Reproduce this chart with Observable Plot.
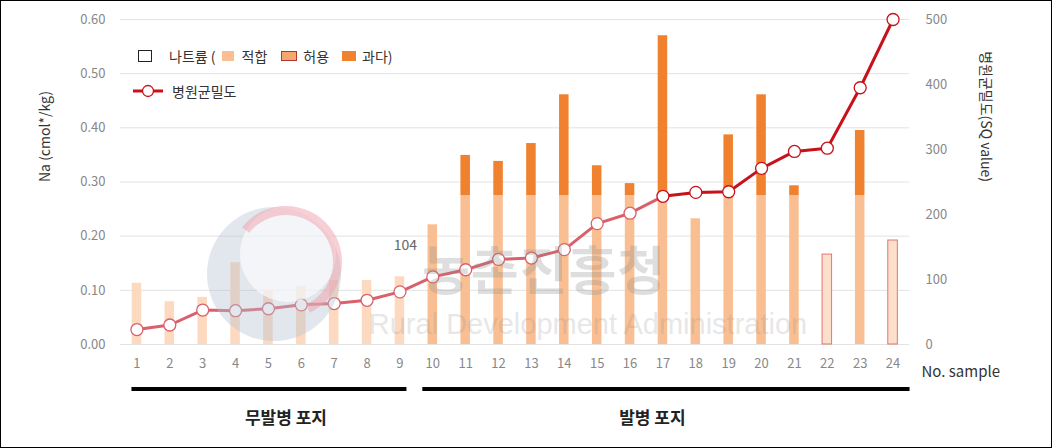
<!DOCTYPE html>
<html>
<head>
<meta charset="utf-8">
<script src="https://cdn.jsdelivr.net/npm/d3@7"></script>
<script src="https://cdn.jsdelivr.net/npm/@observablehq/plot@0.6"></script>
<style>
  html, body { margin: 0; padding: 0; background: #fff; }
  body { font-family: "Noto Sans CJK KR", "Noto Sans", sans-serif; }
  #wrap { position: relative; width: 1059px; height: 448px; overflow: hidden; }
  #frame { position: absolute; left: 0; top: 0; width: 1052px; height: 448px; box-sizing: border-box; border: 1px solid #000; pointer-events: none; }
  .leg { position: absolute; display: flex; align-items: center; font-size: 14px; color: #333; white-space: nowrap; }
  .sw { display: inline-block; width: 12px; height: 10px; box-sizing: border-box; }
  #wm { position: absolute; left: 0; top: 0; pointer-events: none; }
</style>
</head>
<body>
<div id="wrap"></div>
<script>
// ---- data ----
const samples = [1,2,3,4,5,6,7,8,9,10,11,12,13,14,15,16,17,18,19,20,21,22,23,24];
const naValues = [0.113,0.079,0.087,0.151,0.100,0.107,0.118,0.118,0.125,0.221,0.349,0.338,0.371,0.461,0.330,0.297,0.570,0.232,0.387,0.461,0.293,0.166,0.395,0.192];
const naStatus = ["적합","적합","적합","적합","적합","적합","적합","적합","적합","적합","과다","과다","과다","과다","과다","과다","과다","적합","과다","과다","과다","허용","과다","허용"];
const pathogen = [23,30,53,52,55,61,63,68,81,104,115,131,133,146,186,202,228,234,235,271,297,302,395,500];
const groupNames = ["무발병 포지","발병 포지"];
const groupOf = samples.map(s => s <= 9 ? groupNames[0] : groupNames[1]);
const okLimit = 0.275;           // upper end of the 적합 part of each bar
const naTicks = [0, 0.1, 0.2, 0.3, 0.4, 0.5, 0.6];
const pTicks = [0, 100, 200, 300, 400, 500];
const naMax = 0.6, pMax = 500;
const k = naMax / pMax;          // maps pathogen onto the Na scale

// ---- colours ----
const cOkHealthy = "#fdd9bf";
const cOk = "#f9bf93";
const cAllow = "#fde0cc";
const cAllowStroke = "#e57373";
const cOver = "#f0822f";
const cLineA = "#d9616b";
const cLineB = "#c8111b";

const rows = samples.map((s, i) => ({ s, na: naValues[i], st: naStatus[i], p: pathogen[i], g: groupOf[i], i }));
const baseRows = rows.map(d => ({ ...d, y1: 0, y2: Math.min(d.na, okLimit) }));
const overRows = rows.filter(d => d.na > okLimit).map(d => ({ ...d, y1: okLimit, y2: d.na }));

const groupMark = (index, scales, values, dims) => {
  const x = scales.x, bw = x.bandwidth();
  const c = s => x(s) + bw / 2;
  const g = d3.create("svg:g");
  const spans = [
    { name: groupNames[0], a: c(1) - 5, b: c(9) + 7, lx: (c(1) + c(9)) / 2 + 18 },
    { name: groupNames[1], a: c(10) - 10, b: c(24) + 17, lx: (c(10) + c(24)) / 2 - 10 }
  ];
  for (const sp of spans) {
    g.append("line").attr("x1", sp.a).attr("x2", sp.b).attr("y1", 389).attr("y2", 389)
      .attr("stroke", "#000").attr("stroke-width", 4);
    g.append("text").attr("x", sp.lx).attr("y", 424).attr("text-anchor", "middle")
      .attr("font-size", 17).attr("font-weight", "bold").attr("fill", "#222").text(sp.name);
  }
  return g.node();
};

const plot = Plot.plot({
  width: 1059,
  height: 448,
  marginLeft: 120,
  marginRight: 150,
  marginTop: 19,
  marginBottom: 104,
  style: { fontFamily: "'Noto Sans CJK KR', 'Noto Sans', sans-serif", background: "transparent" },
  x: { type: "band", domain: samples, paddingInner: 0.71, paddingOuter: 0.355, align: 0.5, round: false },
  y: { domain: [0, naMax] },
  marks: [
    Plot.gridY(naTicks, { stroke: "#e2e2e2", strokeOpacity: 1 }),
    Plot.rectY(baseRows, {
      x: "s", y1: "y1", y2: "y2",
      fill: d => d.st === "허용" ? cAllow : (d.g === groupNames[0] ? cOkHealthy : cOk),
      stroke: d => d.st === "허용" ? cAllowStroke : "none",
      strokeWidth: 1
    }),
    Plot.rectY(overRows, { x: "s", y1: "y1", y2: "y2", fill: cOver }),
    Plot.line(rows.filter(d => d.s <= 17), { x: "s", y: d => d.p * k, stroke: cLineA, strokeWidth: 3 }),
    Plot.line(rows.filter(d => d.s >= 17), { x: "s", y: d => d.p * k, stroke: cLineB, strokeWidth: 3 }),
    Plot.dot(rows, { x: "s", y: d => d.p * k, r: 6, fill: "white", stroke: d => d.s <= 16 ? cLineA : cLineB, strokeWidth: 1.3 }),
    Plot.axisY(naTicks, { anchor: "left", tickSize: 0, tickPadding: 15, tickFormat: d3.format(".2f"), fill: "#888", fontSize: 13, label: null }),
    Plot.axisY(pTicks.map(v => v * k), { anchor: "right", tickSize: 0, tickPadding: 16, tickFormat: v => String(Math.round(v / k)), fill: "#888", fontSize: 13, label: null }),
    Plot.axisX({ tickSize: 0, tickPadding: 14, fill: "#888", fontSize: 13, label: null }),
    Plot.text(["Na (cmol*/kg)"], { frameAnchor: "left", dx: -75, rotate: -90, fontSize: 14, fill: "#333" }),
    Plot.text(["병원균밀도(SQ value)"], { frameAnchor: "right", dx: 76, rotate: 90, fontSize: 14, fill: "#333" }),
    Plot.text(["No. sample"], { frameAnchor: "bottom-right", dx: 12, dy: 32, textAnchor: "start", fontSize: 15, fill: "#333" }),
    groupMark
  ]
});

const wrap = document.getElementById("wrap");
wrap.appendChild(plot);

// watermark overlay (faint logo + agency name)
const wm = d3.select(wrap).append("svg").attr("id", "wm").attr("width", 1059).attr("height", 448);
wm.append("circle").attr("cx", 274).attr("cy", 274).attr("r", 67).attr("fill", "#b4c3d3").attr("opacity", 0.4);
wm.append("circle").attr("cx", 288).attr("cy", 254).attr("r", 48).attr("fill", "#fff").attr("opacity", 0.6);
wm.append("path").attr("d", d3.arc()({ innerRadius: 47, outerRadius: 56, startAngle: -0.9, endAngle: 2.7 }))
  .attr("transform", "translate(286,262)").attr("fill", "#f1a0aa").attr("opacity", 0.5);
wm.append("text").attr("x", 422).attr("y", 290).attr("text-anchor", "start").attr("font-size", 52)
  .attr("font-weight", "bold").attr("fill", "#8a8a8a").attr("opacity", 0.28).attr("letter-spacing", 1).text("농촌진흥청");
wm.append("text").attr("x", 588).attr("y", 334).attr("text-anchor", "middle").attr("font-size", 29)
  .attr("font-family", "'Liberation Sans', Arial, sans-serif")
  .attr("fill", "#8a8a8a").attr("opacity", 0.2).text("Rural Development Administration");

// data label shown above sample 10 (drawn over the watermark)
const xs = plot.scale("x"), ys = plot.scale("y");
const r10 = rows.find(d => d.s === 10);
wm.append("text")
  .attr("x", xs.apply(r10.s) + xs.bandwidth / 2 - 27)
  .attr("y", ys.apply(r10.p * k) - 26)
  .attr("text-anchor", "middle").attr("font-size", 14).attr("fill", "#666")
  .attr("font-family", "'Noto Sans CJK KR', 'Noto Sans', sans-serif")
  .text(String(r10.p));

// legend
const leg1 = document.createElement("div");
leg1.className = "leg";
leg1.style.left = "138px"; leg1.style.top = "46px";
leg1.innerHTML =
  '<span class="sw" style="border:1.5px solid #222;width:14px;height:12px"></span>' +
  '<span style="margin-left:17px">나트륨 (</span>' +
  '<span class="sw" style="background:' + cOk + ';margin-left:6px"></span>' +
  '<span style="margin-left:8px">적합</span>' +
  '<span class="sw" style="background:#f5a86e;border:1.5px solid #b0392e;margin-left:14px;width:16px"></span>' +
  '<span style="margin-left:6px">허용</span>' +
  '<span class="sw" style="background:' + cOver + ';margin-left:13px;width:14px"></span>' +
  '<span style="margin-left:6px">과다)</span>';
wrap.appendChild(leg1);

const leg2 = document.createElement("div");
leg2.className = "leg";
leg2.style.left = "133px"; leg2.style.top = "81px";
leg2.innerHTML =
  '<svg width="30" height="14"><line x1="0" x2="30" y1="7" y2="7" stroke="' + cLineB + '" stroke-width="3"/><circle cx="15" cy="7" r="5.5" fill="#fff" stroke="' + cLineB + '" stroke-width="1.3"/></svg>' +
  '<span style="margin-left:9px">병원균밀도</span>';
wrap.appendChild(leg2);

const frame = document.createElement("div");
frame.id = "frame";
wrap.appendChild(frame);
</script>
</body>
</html>
